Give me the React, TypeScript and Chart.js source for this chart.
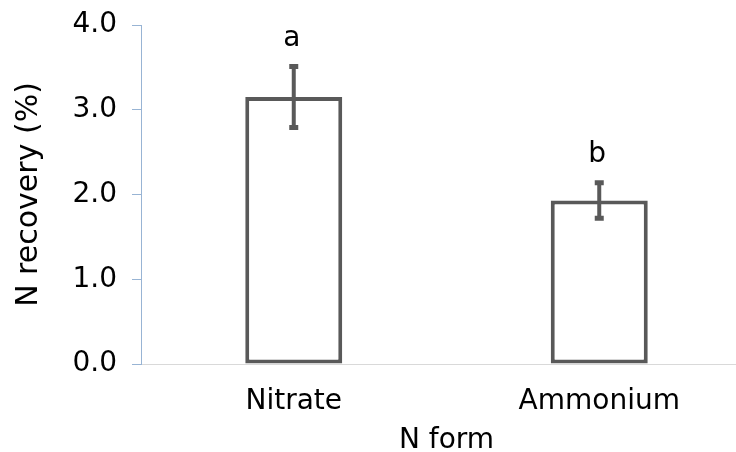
import React, { useEffect, useRef } from "react";
import { Chart, registerables } from "chart.js";

Chart.register(...registerables);

const categories = ["Nitrate", "Ammonium"];
const recovery = [3.15, 1.93];
const errors = [0.36, 0.21];
const letters = ["a", "b"];
const yTicks = [0, 1, 2, 3, 4];

const FONT = "'DejaVu Sans', Verdana, sans-serif";

const errorBarPlugin = {
  id: "errorBars",
  afterDatasetsDraw(chart: any) {
    const ctx = chart.ctx;
    const meta = chart.getDatasetMeta(0);
    const y = chart.scales.y;
    ctx.save();
    meta.data.forEach((bar: any, i: number) => {
      const x = bar.x;
      const top = y.getPixelForValue(recovery[i] + errors[i]);
      const bot = y.getPixelForValue(recovery[i] - errors[i]);
      ctx.strokeStyle = "#595959";
      ctx.lineWidth = 4;
      ctx.beginPath();
      ctx.moveTo(x, top);
      ctx.lineTo(x, bot);
      ctx.stroke();
      ctx.lineWidth = 5;
      ctx.beginPath();
      ctx.moveTo(x - 4.5, top);
      ctx.lineTo(x + 4.5, top);
      ctx.moveTo(x - 4.5, bot);
      ctx.lineTo(x + 4.5, bot);
      ctx.stroke();
      ctx.fillStyle = "#000";
      ctx.font = `28px ${FONT}`;
      ctx.textAlign = "center";
      ctx.textBaseline = "alphabetic";
      ctx.fillText(letters[i], x - 2, top - 21);
    });
    ctx.restore();
  },
};

export default function App() {
  const ref = useRef<HTMLCanvasElement>(null);
  useEffect(() => {
    document.body.style.margin = "0";
    const chart = new Chart(ref.current!, {
      type: "bar",
      data: {
        labels: categories,
        datasets: [
          {
            data: recovery,
            backgroundColor: "#ffffff",
            borderColor: "#595959",
            borderWidth: 4,
            borderSkipped: false,
            categoryPercentage: 1,
            barPercentage: 0.3175,
          },
        ],
      },
      options: {
        responsive: false,
        animation: false,
        layout: { padding: { top: 25, left: 0, right: 0, bottom: 0 } },
        plugins: { legend: { display: false }, tooltip: { enabled: false } },
        scales: {
          x: {
            offset: true,
            grid: { display: false },
            border: { display: true, color: "#d9d9d9", width: 1 },
            ticks: {
              color: "#000",
              font: { family: FONT, size: 28 },
              padding: 13,
            },
            title: {
              display: true,
              text: "N form",
              color: "#000",
              font: { family: FONT, size: 28, lineHeight: 1 },
              padding: { top: 0, bottom: -3 },
            },
            afterFit: (s: any) => {
              s.height = 88;
              s.paddingLeft = 0;
              s.paddingRight = 0;
            },
          },
          y: {
            min: 0,
            max: 4,
            afterBuildTicks: (s: any) => {
              s.ticks = yTicks.map((v) => ({ value: v }));
            },
            grid: {
              drawOnChartArea: false,
              drawTicks: true,
              tickLength: 9,
              color: "#98b4d4",
            },
            border: { display: true, color: "#98b4d4", width: 1 },
            ticks: {
              color: "#000",
              font: { family: FONT, size: 28 },
              padding: 15,
              callback: (v: any) => Number(v).toFixed(1),
            },
            title: {
              display: true,
              text: "N recovery (%)",
              color: "#000",
              font: { family: FONT, size: 30 },
              padding: { top: 11, bottom: 0 },
            },
            afterFit: (s: any) => {
              s.width = 141;
              s.paddingTop = 0;
              s.paddingBottom = 0;
            },
          },
        },
      },
      plugins: [errorBarPlugin],
    });
    return () => chart.destroy();
  }, []);
  return (
    <div style={{ width: 736, height: 452, overflow: "hidden" }}>
      <canvas ref={ref} width={752} height={452} style={{ display: "block" }} />
    </div>
  );
}
